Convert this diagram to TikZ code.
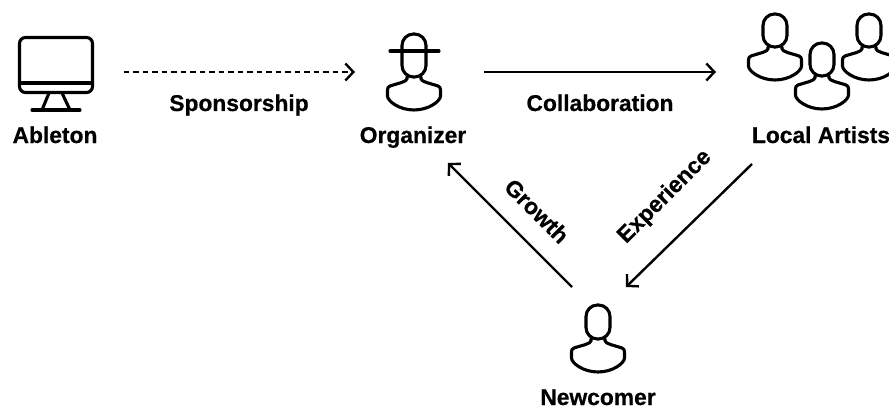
\documentclass[tikz,border=0pt]{standalone}
\usepackage{fontspec}
\setmainfont[BoldFeatures={FakeBold=0.6}]{Liberation Sans}
\usetikzlibrary{arrows.meta}
\tikzset{
  iconline/.style={line width=3.1pt,line join=round,line cap=round},
  iconbox/.style={inner sep=0pt,outer sep=0pt,minimum width=#1},
  lbl/.style={font=\fontsize{22.8}{24}\selectfont\bfseries,inner sep=0pt},
  conn/.style={line width=2.4pt,-{Straight Barb[length=8pt,width=17pt,line width=2.4pt]}},
}
% centre x, head top y, head height
\newcommand\personat[3]{%
  \begin{scope}[shift={(#1,#2)}]
    \draw[iconline,rounded corners=11.5pt] (-12,0) rectangle (12,#3);
    \draw[iconline] (-7,#3) -- (-7,#3+2) .. controls (-8,#3+5) and (-15,#3+6) .. (-24,#3+9)
      .. controls (-26,#3+10) and (-26.5,#3+11) .. (-26.5,#3+13) -- (-26.5,#3+19)
      .. controls (-26.5,#3+24) and (-15,#3+33) .. (0,#3+33)
      .. controls (15,#3+33) and (26.5,#3+24) .. (26.5,#3+19) -- (26.5,#3+13)
      .. controls (26.5,#3+11) and (26,#3+10) .. (24,#3+9)
      .. controls (15,#3+6) and (8,#3+5) .. (7,#3+2) -- (7,#3);
  \end{scope}}
\begin{document}
\begin{tikzpicture}[x=1pt,y=-1pt]
\useasboundingbox (0,0) rectangle (889,409);
% monitor
\draw[iconline,rounded corners=6pt] (19.5,37.5) rectangle (92.5,92.5);
\draw[iconline] (19.5,83) -- (92.5,83);
\draw[iconline] (49,93) -- (42,110);
\draw[iconline] (62,93) -- (70,110);
\draw[iconline] (32,110) -- (80,110);
% people
\personat{414}{34}{43}
\draw[iconline] (390,51) -- (439,51);
\personat{775}{14}{33}
\personat{822}{43}{33}
\personat{869}{14}{33}
\personat{598}{305}{34}
% invisible icon frames used by connectors
\node[iconbox=75pt,minimum height=40pt] (ableton) at (56,72) {};
\node[iconbox=54pt,minimum height=40pt] (organizer) at (414,72) {};
\node[iconbox=54pt,minimum height=40pt] (artists) at (773,72) {};
\node[iconbox=54pt,minimum height=86pt] (newcomer) at (599,330) {};
\coordinate (orgin) at (448,163);
\coordinate (artout) at (752,164);
% labels
\node[lbl,anchor=base] (lab1) at (55,143) {Ableton};
\node[lbl,anchor=base] (lab2) at (413,143) {Organizer};
\node[lbl,anchor=base] (lab3) at (821,143) {Local Artists};
\node[lbl,anchor=base] (lab4) at (598,405) {Newcomer};
\node[lbl,anchor=base] (lab5) at (239,111) {Sponsorship};
\node[lbl,anchor=base] (lab6) at (600,111) {Collaboration};
\node[lbl,rotate=-45] (lab7) at (537,211) {Growth};
\node[lbl,rotate=45] (lab8) at (665,197) {Experience};
% connectors
\draw[conn,dashed,dash pattern=on 5.5pt off 4pt,shorten <=30pt,shorten >=32pt] (ableton) -- (organizer);
\draw[conn,shorten <=43pt,shorten >=30pt] (organizer) -- (artists);
\draw[conn] (newcomer.north west) -- (orgin);
\draw[conn] (artout) -- (newcomer.north east);
\end{tikzpicture}
\end{document}
